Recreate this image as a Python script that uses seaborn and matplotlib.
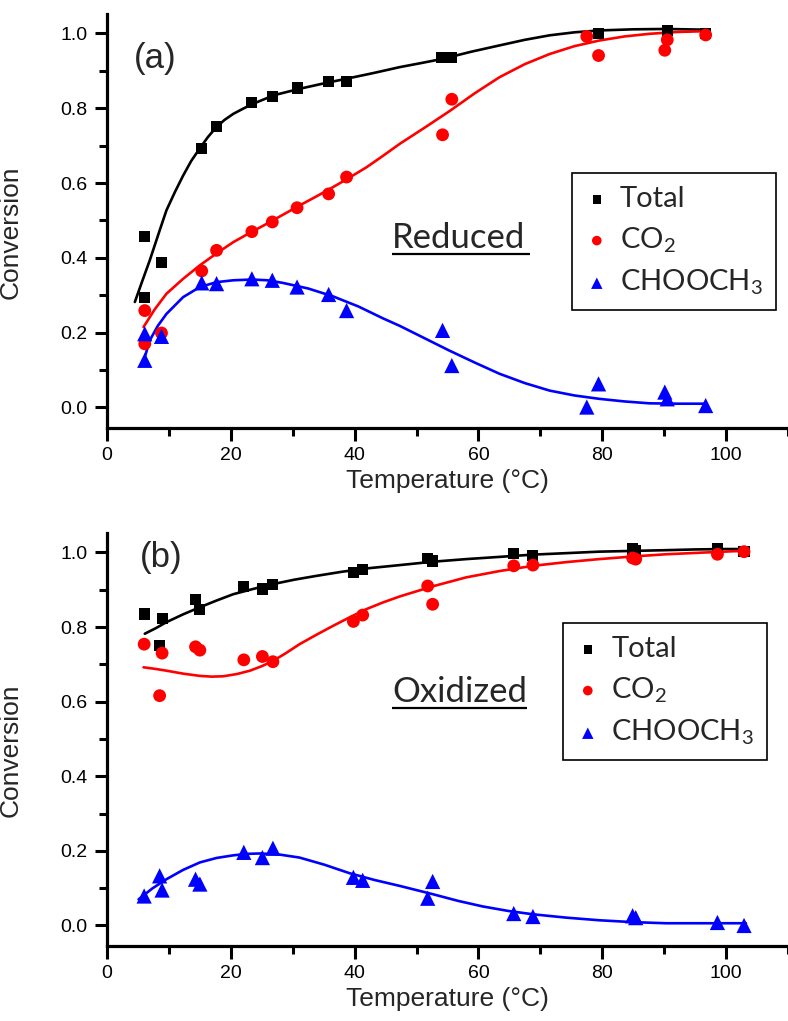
import numpy as np
import pandas as pd
import matplotlib
matplotlib.use("Agg")
import matplotlib.pyplot as plt
import seaborn as sns
from matplotlib.ticker import MultipleLocator

# ---------------- data ----------------
# Panel (a) Reduced
a_total_x = [6.1, 6.1, 8.8, 15.3, 17.7, 23.4, 26.7, 30.7, 35.8, 38.7, 54.0, 55.6, 79.4, 90.5, 96.7]
a_total_y = [0.295, 0.457, 0.387, 0.693, 0.751, 0.816, 0.832, 0.854, 0.872, 0.872, 0.935, 0.935, 1.0, 1.008, 1.0]
a_x = [6.1, 6.1, 8.8, 15.3, 17.7, 23.4, 26.7, 30.7, 35.8, 38.7, 54.2, 55.7, 77.5, 79.4, 90.1, 90.5, 96.7]
a_co2_y = [0.259, 0.17, 0.199, 0.365, 0.42, 0.47, 0.496, 0.534, 0.571, 0.616, 0.729, 0.824, 0.992, 0.941, 0.955, 0.983, 0.996]
a_ch_y = [0.197, 0.126, 0.19, 0.333, 0.331, 0.344, 0.34, 0.322, 0.302, 0.259, 0.206, 0.112, 0.001, 0.063, 0.041, 0.023, 0.005]

# fitted curves (a)
a_fit_total_x = [4.5, 5.7, 6.9, 8.5, 9.6, 11.0, 12.3, 13.6, 15, 16.3, 17.7, 19.0, 20.4, 22.0, 23.6, 27, 31.1, 34.9, 38.7, 43.0, 47.3, 50.8, 54.2, 58.8, 63.4, 67.5, 71.5, 75.5, 79.5, 84.9, 90.3, 96.7]
a_fit_total_y = [0.282, 0.338, 0.393, 0.473, 0.527, 0.577, 0.62, 0.659, 0.693, 0.723, 0.75, 0.769, 0.785, 0.799, 0.812, 0.835, 0.852, 0.866, 0.879, 0.894, 0.91, 0.921, 0.932, 0.951, 0.968, 0.983, 0.995, 1.003, 1.008, 1.011, 1.012, 1.01]
a_fit_co2_x = [5.9, 7.7, 9.6, 12.3, 15, 17.7, 20.4, 23.1, 25.8, 28.5, 31.1, 33.8, 36.5, 39.2, 41.9, 44.6, 47.3, 51.3, 55.3, 59.4, 63.4, 67.5, 71.5, 75.5, 79.5, 83.6, 87.6, 92.2, 96.7]
a_fit_co2_y = [0.215, 0.262, 0.304, 0.344, 0.38, 0.412, 0.442, 0.467, 0.491, 0.516, 0.54, 0.564, 0.589, 0.615, 0.642, 0.673, 0.705, 0.748, 0.792, 0.84, 0.883, 0.918, 0.945, 0.966, 0.981, 0.992, 0.999, 1.004, 1.006]
a_fit_ch_x = [6.1, 6.9, 8.2, 9.6, 12.3, 15, 17.7, 20.4, 23.4, 25.9, 28.4, 32.5, 36.5, 40.6, 44.6, 47.3, 51.3, 55.3, 59.4, 63.4, 67.5, 71.5, 75.5, 79.5, 83.6, 87.6, 92.2, 96.7]
a_fit_ch_y = [0.134, 0.179, 0.218, 0.25, 0.295, 0.322, 0.335, 0.34, 0.342, 0.34, 0.333, 0.318, 0.297, 0.27, 0.238, 0.218, 0.185, 0.152, 0.12, 0.09, 0.065, 0.045, 0.032, 0.023, 0.016, 0.011, 0.01, 0.01]

# Panel (b) Oxidized
b_x = [6.0, 8.5, 8.9, 14.3, 15.0, 22.1, 25.1, 26.8, 39.8, 41.3, 51.8, 52.6, 65.7, 68.8, 84.9, 85.4, 98.6, 102.9]
b_total_y = [0.835, 0.751, 0.823, 0.873, 0.848, 0.908, 0.902, 0.915, 0.945, 0.953, 0.984, 0.977, 0.997, 0.991, 1.009, 1.004, 1.009, 1.003]
b_co2_y = [0.754, 0.616, 0.73, 0.747, 0.738, 0.712, 0.721, 0.707, 0.815, 0.832, 0.91, 0.861, 0.964, 0.966, 0.985, 0.982, 0.995, 1.002]
b_ch_y = [0.079, 0.133, 0.095, 0.124, 0.111, 0.196, 0.182, 0.207, 0.129, 0.121, 0.073, 0.118, 0.032, 0.024, 0.026, 0.021, 0.008, 0.0]

b_fit_total_x = [6.1, 7.9, 9.6, 12.3, 15, 17.7, 20.4, 23.6, 26.8, 30.3, 33.8, 37.9, 41.9, 47.3, 52.6, 58, 63.4, 68.8, 74.2, 79.5, 84.9, 90.3, 95.1, 99.9, 103.2]
b_fit_total_y = [0.782, 0.797, 0.813, 0.834, 0.853, 0.871, 0.888, 0.902, 0.915, 0.927, 0.937, 0.948, 0.957, 0.966, 0.975, 0.982, 0.988, 0.994, 0.998, 1.002, 1.004, 1.006, 1.008, 1.009, 1.009]
b_fit_co2_x = [5.9, 7.7, 9.6, 12.3, 15, 16.9, 18.8, 21.0, 23.1, 25.0, 26.8, 28.9, 31.1, 33.8, 36.5, 39.2, 41.9, 44.6, 47.3, 52.6, 58, 63.4, 68.8, 74.2, 79.5, 84.9, 90.3, 95.6, 101, 103.2]
b_fit_co2_y = [0.692, 0.688, 0.683, 0.675, 0.669, 0.667, 0.668, 0.674, 0.683, 0.695, 0.709, 0.73, 0.754, 0.779, 0.803, 0.826, 0.848, 0.866, 0.882, 0.909, 0.933, 0.95, 0.964, 0.974, 0.982, 0.989, 0.995, 0.999, 1.003, 1.004]
b_fit_ch_x = [5.1, 7.3, 9.6, 12.3, 15, 17.7, 20.4, 22.6, 24.7, 27.9, 31.1, 35.1, 39.2, 43.2, 47.3, 52.6, 56.7, 60.7, 64.8, 68.8, 74.2, 79.5, 84.9, 90.3, 95.6, 101, 103.2]
b_fit_ch_y = [0.07, 0.099, 0.124, 0.149, 0.169, 0.181, 0.188, 0.192, 0.193, 0.19, 0.182, 0.163, 0.14, 0.122, 0.106, 0.084, 0.066, 0.051, 0.039, 0.03, 0.021, 0.014, 0.009, 0.006, 0.006, 0.006, 0.006]

series_names = ["Total", "CO2", "CHOOCH3"]
legend_labels = {"Total": "Total", "CO2": "CO$_2$", "CHOOCH3": "CHOOCH$_3$"}
colors = {"Total": "#000000", "CO2": "#ff0000", "CHOOCH3": "#0000ff"}
markers = {"Total": "s", "CO2": "o", "CHOOCH3": "^"}
sizes = {"Total": 64, "CO2": 85, "CHOOCH3": 120}

# ---------------- style ----------------
sns.set_style("ticks")
plt.rcParams["font.family"] = ["Liberation Sans", "DejaVu Sans"]
plt.rcParams["mathtext.fontset"] = "custom"
plt.rcParams["mathtext.rm"] = "Lato"
plt.rcParams["mathtext.it"] = "Lato:italic"

W, H = 788, 1021
fig = plt.figure(figsize=(W / 100, H / 100), dpi=100)
ax_a = fig.add_axes([107 / W, 1 - 428 / H, (W - 107) / W, (428 - 14) / H])
ax_b = fig.add_axes([107 / W, 1 - 946 / H, (W - 107) / W, (946 - 533) / H])


def draw_panel(ax, pts, fits, tag, tag_xy, word, word_xy, uline, leg_anchor):
    # curves
    for name in series_names:
        fx, fy = fits[name]
        sns.lineplot(x=fx, y=fy, ax=ax, color=colors[name], lw=1.9,
                     sort=False, estimator=None, zorder=2)
    # points
    for name in series_names:
        px, py = pts[name]
        sns.scatterplot(x=px, y=py, ax=ax, color=colors[name], marker=markers[name],
                        s=sizes[name], edgecolor="none", linewidth=0,
                        label=legend_labels[name], zorder=3)
    ax.set_xlim(0, 110)
    ax.set_ylim(-0.055, 1.052)
    ax.xaxis.set_major_locator(MultipleLocator(20))
    ax.xaxis.set_minor_locator(MultipleLocator(10))
    ax.yaxis.set_major_locator(MultipleLocator(0.2))
    ax.yaxis.set_minor_locator(MultipleLocator(0.1))
    ax.yaxis.set_major_formatter(matplotlib.ticker.FormatStrFormatter("%.1f"))
    for s in ["top", "right"]:
        ax.spines[s].set_visible(False)
    for s in ["left", "bottom"]:
        ax.spines[s].set_linewidth(2.3)
        ax.spines[s].set_color("black")
    ax.tick_params(which="major", direction="out", length=9, width=2.2,
                   labelsize=14, pad=5, colors="black")
    ax.tick_params(which="minor", direction="out", length=6, width=2.2, colors="black")
    ax.set_xlabel("Temperature (°C)", fontsize=19, labelpad=3)
    ax.set_ylabel("Conversion", fontsize=19, labelpad=10)
    ax.yaxis.set_label_coords(-0.124, 0.473)
    ax.text(tag_xy[0], tag_xy[1], tag, transform=ax.transAxes, fontsize=25,
            ha="center", va="center")
    ax.text(word_xy[0], word_xy[1], word, transform=ax.transAxes, fontsize=25,
            family=["Lato", "DejaVu Sans"], ha="left", va="baseline")
    ax.plot(uline[0], uline[1], transform=ax.transAxes, color="black", lw=1.6,
            solid_capstyle="butt")
    leg = ax.legend(loc="upper left", bbox_to_anchor=leg_anchor, frameon=True,
                    fancybox=False, edgecolor="black", framealpha=1,
                    prop={"family": ["Lato", "DejaVu Sans"], "size": 21},
                    handlelength=0.8, handletextpad=0.4, labelspacing=0.45,
                    borderpad=0.45, markerscale=0.75, borderaxespad=0)
    leg.get_frame().set_linewidth(1.2)


ax_px_w = W - 107
a_h = 428 - 14
b_h = 946 - 533

draw_panel(
    ax_a,
    {"Total": (a_total_x, a_total_y), "CO2": (a_x, a_co2_y), "CHOOCH3": (a_x, a_ch_y)},
    {"Total": (a_fit_total_x, a_fit_total_y), "CO2": (a_fit_co2_x, a_fit_co2_y),
     "CHOOCH3": (a_fit_ch_x, a_fit_ch_y)},
    "(a)", ((155 - 107) / ax_px_w, (428 - 59) / a_h),
    "Reduced", ((392 - 107) / ax_px_w, (428 - 248) / a_h),
    ([(392 - 107) / ax_px_w, (530 - 107) / ax_px_w], [(428 - 254) / a_h] * 2),
    ((572 - 107) / ax_px_w, (428 - 173) / a_h),
)
draw_panel(
    ax_b,
    {"Total": (b_x, b_total_y), "CO2": (b_x, b_co2_y), "CHOOCH3": (b_x, b_ch_y)},
    {"Total": (b_fit_total_x, b_fit_total_y), "CO2": (b_fit_co2_x, b_fit_co2_y),
     "CHOOCH3": (b_fit_ch_x, b_fit_ch_y)},
    "(b)", ((161 - 107) / ax_px_w, (946 - 557) / b_h),
    "Oxidized", ((392 - 107) / ax_px_w, (946 - 702) / b_h),
    ([(392 - 107) / ax_px_w, (527 - 107) / ax_px_w], [(946 - 708) / b_h] * 2),
    ((563 - 107) / ax_px_w, (946 - 623) / b_h),
)

fig.savefig("out.png", dpi=100)
